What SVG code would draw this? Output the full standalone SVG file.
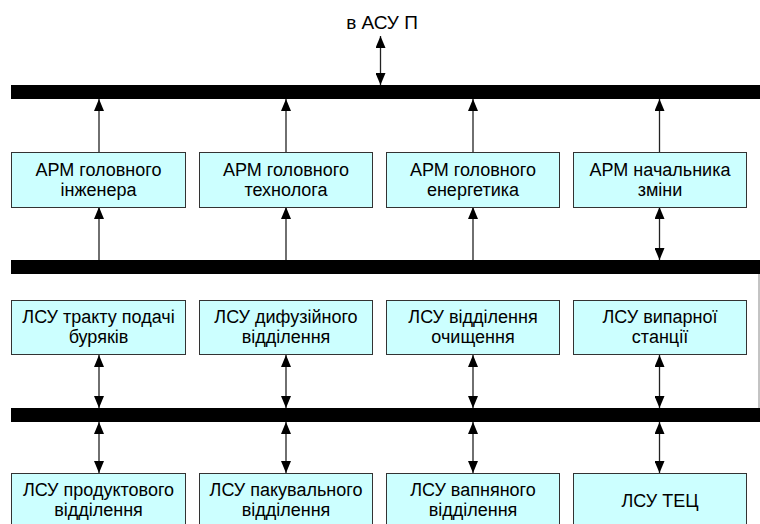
<svg xmlns="http://www.w3.org/2000/svg" width="760" height="524" viewBox="0 0 760 524">
<defs>
<marker id="ah" viewBox="0 0 12 10" refX="12" refY="5" markerWidth="12" markerHeight="10" markerUnits="userSpaceOnUse" orient="auto-start-reverse">
<path d="M0,0 L12,5 L0,10 z" fill="#000"/>
</marker>
<style>
.box{fill:#ccffff;stroke:#333;stroke-width:1}
.bar{fill:#000}
.t{font-family:"Liberation Sans",Arial,sans-serif;font-size:18px;fill:#000;text-anchor:middle}
.c{stroke:#222;stroke-width:1.3;fill:none}
.one{marker-end:url(#ah)}
.two{marker-start:url(#ah);marker-end:url(#ah)}
</style>
</defs>
<rect width="760" height="524" fill="#fff"/>
<g id="buses">
<rect class="bar" x="11" y="85" width="749" height="14"/>
<rect class="bar" x="11" y="260" width="749" height="14"/>
<rect class="bar" x="11" y="408" width="749" height="14"/>
</g>
<g id="connectors">
<line class="c two" x1="380.5" y1="36" x2="380.5" y2="85"/>
<line class="c one" x1="99" y1="152" x2="99" y2="99"/>
<line class="c one" x1="286" y1="152" x2="286" y2="99"/>
<line class="c one" x1="473" y1="152" x2="473" y2="99"/>
<line class="c one" x1="659.5" y1="152" x2="659.5" y2="99"/>
<line class="c one" x1="99" y1="260" x2="99" y2="207"/>
<line class="c one" x1="286" y1="260" x2="286" y2="207"/>
<line class="c one" x1="473" y1="260" x2="473" y2="207"/>
<line class="c two" x1="659.5" y1="207" x2="659.5" y2="260"/>
<line class="c two" x1="99" y1="355" x2="99" y2="408"/>
<line class="c two" x1="286" y1="355" x2="286" y2="408"/>
<line class="c two" x1="473" y1="355" x2="473" y2="408"/>
<line class="c two" x1="659.5" y1="355" x2="659.5" y2="408"/>
<line class="c two" x1="99" y1="422" x2="99" y2="473"/>
<line class="c two" x1="286" y1="422" x2="286" y2="473"/>
<line class="c two" x1="473" y1="422" x2="473" y2="473"/>
<line class="c two" x1="659.5" y1="422" x2="659.5" y2="473"/>
<line x1="759" y1="274" x2="759" y2="408" stroke="#888" stroke-width="1"/>
</g>
<g id="label-asu">
<text class="t" x="382" y="29" style="font-size:19px">в АСУ П</text>
</g>
<g id="arm1"><rect class="box" x="11.5" y="152.5" width="174" height="55"/><text class="t" x="98.5" y="176">АРМ головного</text><text class="t" x="98.5" y="196">інженера</text></g>
<g id="arm2"><rect class="box" x="199.5" y="152.5" width="173" height="55"/><text class="t" x="286" y="176">АРМ головного</text><text class="t" x="286" y="196">технолога</text></g>
<g id="arm3"><rect class="box" x="386.5" y="152.5" width="173" height="55"/><text class="t" x="473" y="176">АРМ головного</text><text class="t" x="473" y="196">енергетика</text></g>
<g id="arm4"><rect class="box" x="573.5" y="152.5" width="173" height="55"/><text class="t" x="660" y="176">АРМ начальника</text><text class="t" x="660" y="196">зміни</text></g>
<g id="lsu1"><rect class="box" x="11.5" y="300.5" width="174" height="54"/><text class="t" x="98.5" y="323">ЛСУ тракту подачі</text><text class="t" x="98.5" y="343">буряків</text></g>
<g id="lsu2"><rect class="box" x="199.5" y="300.5" width="173" height="54"/><text class="t" x="286" y="323">ЛСУ дифузійного</text><text class="t" x="286" y="343">відділення</text></g>
<g id="lsu3"><rect class="box" x="386.5" y="300.5" width="173" height="54"/><text class="t" x="473" y="323">ЛСУ відділення</text><text class="t" x="473" y="343">очищення</text></g>
<g id="lsu4"><rect class="box" x="573.5" y="300.5" width="173" height="54"/><text class="t" x="660" y="323">ЛСУ випарної</text><text class="t" x="660" y="343">станції</text></g>
<g id="lsu5"><rect class="box" x="11.5" y="473.5" width="174" height="55"/><text class="t" x="98.5" y="496">ЛСУ продуктового</text><text class="t" x="98.5" y="516">відділення</text></g>
<g id="lsu6"><rect class="box" x="199.5" y="473.5" width="173" height="55"/><text class="t" x="286" y="496">ЛСУ пакувального</text><text class="t" x="286" y="516">відділення</text></g>
<g id="lsu7"><rect class="box" x="386.5" y="473.5" width="173" height="55"/><text class="t" x="473" y="496">ЛСУ вапняного</text><text class="t" x="473" y="516">відділення</text></g>
<g id="lsu8"><rect class="box" x="573.5" y="473.5" width="173" height="55"/><text class="t" x="660" y="507">ЛСУ ТЕЦ</text></g>
</svg>
